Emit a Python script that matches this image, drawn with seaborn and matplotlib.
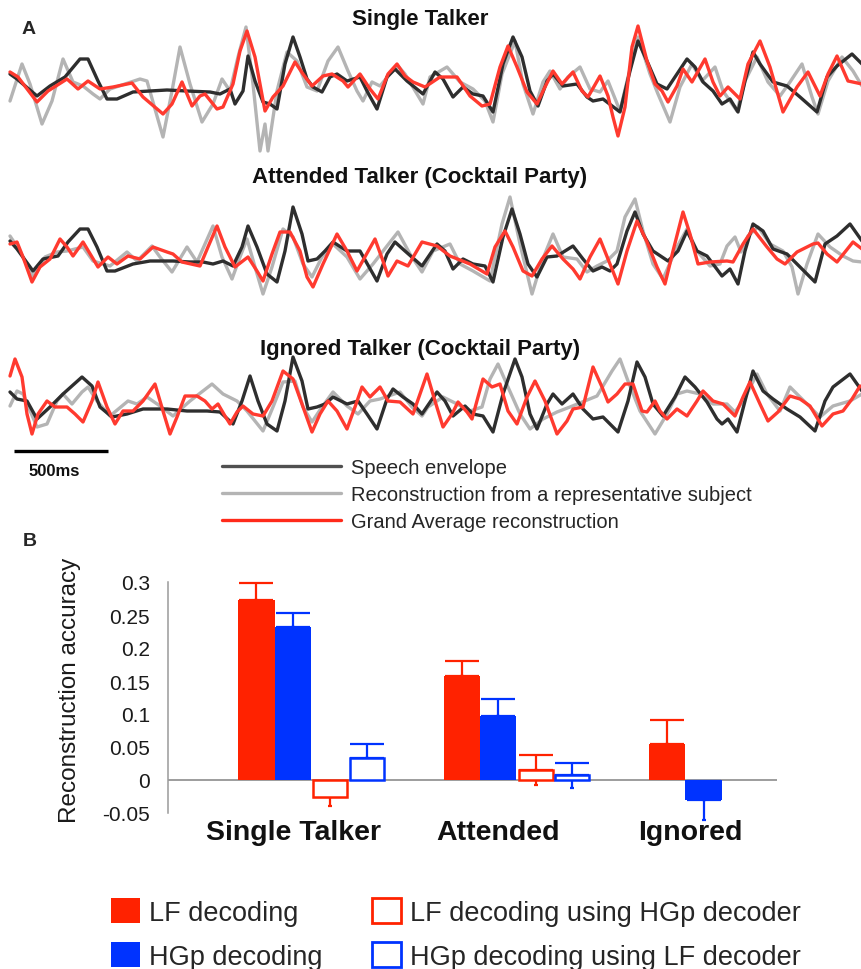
import pandas as pd
import matplotlib
matplotlib.use("Agg")
import matplotlib.pyplot as plt
import seaborn as sns
from matplotlib.patches import Patch
from matplotlib.lines import Line2D

# ---------------- Panel A: envelope traces ----------------
# (sample index at ~188 Hz, amplitude in a.u.)
FS = 188
single_env = [(10,15),(17,10),(37,-7),(50,3),(65,12),(80,30),(88,30),(98,8),(107,-10),(117,-10),(133,-3),(150,-2),(167,-1),(187,-2),(210,-3),(220,-5),(230,0),(235,-15),(243,-2),(248,33),(255,8),(263,-13),(270,-15),(277,-20),(285,25),(293,52),(300,32),(307,10),(313,2),(322,-3),(330,12),(337,15),(347,8),(360,12),(367,-2),(377,-20),(387,12),(395,20),(407,8),(423,-5),(435,17),(443,10),(453,-8),(463,2),(473,-5),(483,-7),(493,-23),(503,25),(513,52),(522,32),(530,-2),(538,-17),(547,8),(553,15),(563,3),(577,5),(587,-8),(593,-12),(603,-10),(620,-23),(630,18),(638,48),(647,28),(657,5),(667,0),(677,15),(687,30),(695,22),(703,7),(713,-2),(722,-15),(730,-10),(738,-23),(745,8),(753,37),(760,25),(773,7),(787,3),(800,-8),(817,-23),(827,12),(837,23),(852,35),(862,25)]
single_rep = [(10,-12),(22,25),(30,5),(42,-35),(52,-12),(63,30),(73,7),(83,3),(93,-5),(100,-10),(110,0),(140,10),(147,8),(163,-48),(172,-2),(180,42),(190,5),(202,-33),(213,-15),(222,10),(230,-2),(238,32),(246,62),(253,5),(260,-62),(265,-35),(268,-62),(277,-2),(287,37),(297,28),(307,2),(317,-2),(328,28),(338,42),(348,18),(357,-2),(363,-12),(372,7),(380,3),(390,15),(398,23),(405,15),(423,-15),(430,12),(447,22),(460,7),(473,0),(485,-12),(493,-33),(502,15),(515,48),(523,5),(533,-25),(543,7),(550,18),(560,0),(568,12),(580,22),(590,0),(600,-3),(608,8),(620,-22),(628,12),(638,52),(650,15),(658,-5),(670,-33),(680,2),(692,25),(702,8),(715,22),(723,-2),(737,-22),(745,8),(757,32),(768,7),(780,-7),(790,7),(802,25),(812,-8),(818,-25),(828,8),(842,32),(853,18),(862,3)]
single_grand = [(10,17),(18,12),(37,-13),(48,-2),(67,10),(78,0),(88,8),(100,0),(113,2),(132,6),(143,-8),(163,-25),(172,-15),(182,7),(192,-17),(200,-7),(205,-5),(217,-20),(223,-18),(233,5),(240,38),(247,58),(255,32),(265,-22),(273,-8),(283,3),(295,27),(303,15),(312,3),(323,13),(332,15),(343,8),(348,2),(360,15),(370,0),(378,-10),(388,15),(397,25),(405,13),(413,7),(425,2),(440,12),(457,12),(470,-7),(482,-17),(490,-15),(500,22),(508,43),(517,22),(527,-3),(537,-15),(545,2),(553,18),(562,5),(573,17),(582,-2),(588,-8),(600,13),(608,-7),(613,-28),(618,-47),(625,-18),(632,42),(638,63),(647,28),(655,5),(662,-2),(668,-13),(677,3),(683,20),(692,7),(705,30),(713,7),(720,-7),(728,2),(740,-10),(748,25),(760,48),(770,22),(783,-23),(797,2),(808,17),(820,-7),(828,15),(837,33),(848,8),(862,5)]

attended_env = [(10,13),(17,5),(33,-17),(43,-5),(58,-2),(68,12),(80,25),(88,25),(97,7),(107,-17),(115,-17),(133,-10),(150,-7),(173,-7),(190,-8),(203,-8),(213,-10),(223,-7),(233,-12),(242,7),(248,28),(257,7),(267,-20),(277,-28),(285,3),(293,47),(302,20),(308,-7),(317,-5),(325,3),(333,12),(347,3),(360,3),(377,-27),(387,0),(395,12),(405,3),(422,-12),(437,10),(445,3),(453,-15),(463,-5),(473,-10),(485,-12),(493,-28),(503,17),(512,45),(520,20),(528,-10),(537,-23),(547,-3),(557,-2),(573,8),(583,-5),(593,-17),(602,-13),(610,-17),(617,-10),(627,23),(635,42),(643,20),(653,3),(668,-7),(678,3),(687,23),(697,3),(707,-2),(713,-10),(722,-22),(730,-15),(738,-30),(745,3),(753,30),(763,23),(773,5),(787,0),(800,-13),(815,-28),(825,10),(837,18),(850,30),(862,13)]
attended_rep = [(10,18),(20,3),(33,-23),(45,-3),(57,2),(67,3),(83,7),(93,-7),(110,-12),(127,2),(137,-7),(152,8),(160,-3),(172,-18),(187,7),(197,-8),(205,10),(213,28),(222,-3),(232,-25),(240,-3),(247,15),(255,-13),(263,-40),(272,-13),(283,25),(293,17),(303,-10),(312,-23),(322,-3),(333,10),(347,-3),(360,-25),(373,-10),(387,8),(398,22),(410,0),(422,-18),(433,3),(450,10),(460,-10),(473,-17),(490,-27),(502,30),(510,57),(520,10),(532,-40),(542,-7),(553,20),(563,-3),(577,-5),(587,-18),(597,-12),(607,-7),(617,3),(625,37),(635,55),(643,23),(653,-10),(663,-25),(677,7),(687,25),(697,3),(710,-12),(720,-10),(727,8),(735,17),(741,2),(748,18),(758,27),(770,10),(783,3),(792,-13),(798,-40),(807,-10),(818,20),(830,7),(843,-2),(853,-7),(862,-8)]
attended_grand = [(10,10),(17,12),(23,-3),(32,-28),(40,-13),(50,-5),(60,15),(67,7),(73,-2),(83,12),(92,-3),(98,-13),(108,-3),(117,-10),(128,-2),(140,-5),(153,7),(167,2),(173,0),(182,-8),(200,-12),(208,7),(217,28),(225,7),(235,-13),(248,-3),(257,-17),(263,-27),(272,0),(280,22),(290,22),(300,3),(307,-23),(313,-33),(323,-10),(337,20),(347,3),(357,-17),(375,15),(383,-7),(388,-22),(397,-7),(408,-12),(422,12),(437,8),(450,-2),(470,-10),(487,-20),(495,7),(505,23),(513,7),(523,-17),(532,-22),(542,-5),(552,8),(563,-5),(573,-15),(580,-25),(590,-3),(600,15),(610,-10),(618,-30),(627,3),(637,33),(647,12),(657,-13),(665,-30),(673,3),(683,42),(690,20),(698,-10),(710,-8),(727,-7),(733,-8),(743,10),(753,25),(767,7),(777,-5),(785,-10),(797,2),(813,10),(818,11),(827,0),(837,-8),(853,12),(862,5)]

ignored_env = [(10,12),(17,5),(27,3),(37,-15),(50,-3),(63,10),(82,27),(92,18),(100,-3),(112,-13),(127,-10),(143,-5),(167,-5),(187,-7),(207,-7),(220,-8),(233,-20),(242,3),(250,28),(258,3),(267,-20),(277,-27),(285,3),(293,47),(302,23),(308,-5),(317,-3),(325,0),(333,7),(347,0),(358,3),(367,-10),(377,-25),(387,5),(393,15),(403,7),(413,0),(422,-10),(437,12),(445,3),(453,-12),(465,-2),(473,-10),(483,-12),(493,-28),(503,10),(515,45),(522,27),(530,-10),(537,-25),(547,0),(553,10),(562,0),(573,10),(583,-5),(593,-15),(603,-13),(613,-23),(618,-28),(628,3),(637,42),(645,27),(653,0),(663,-12),(675,7),(685,27),(695,17),(707,2),(717,-15),(722,-20),(728,-15),(737,-28),(745,3),(753,33),(763,13),(773,5),(787,-5),(800,-13),(815,-27),(825,3),(833,17),(850,30),(862,13)]
ignored_rep = [(10,-2),(17,13),(23,10),(37,-23),(47,-20),(57,3),(63,10),(72,0),(82,12),(88,17),(97,3),(110,-12),(122,-2),(128,3),(137,0),(147,7),(160,-2),(173,-12),(190,3),(212,20),(223,10),(237,3),(247,-7),(263,-27),(273,-3),(283,22),(295,23),(303,-3),(312,-18),(322,-3),(333,12),(347,-2),(358,-10),(370,3),(380,5),(400,12),(412,-3),(422,-12),(428,-3),(443,7),(457,0),(470,-7),(482,-3),(490,25),(498,40),(508,17),(520,-10),(530,-25),(543,-15),(557,-8),(570,-3),(597,8),(612,33),(620,45),(628,23),(640,-7),(655,-30),(667,-10),(677,10),(687,13),(700,10),(713,0),(727,0),(735,-8),(743,3),(757,30),(767,10),(780,-7),(790,17),(800,7),(810,-3),(820,-13),(833,-2),(850,3),(862,10)]
ignored_grand = [(10,28),(15,45),(22,27),(27,-10),(32,-30),(38,-10),(47,3),(55,-3),(67,-3),(75,-10),(83,-18),(92,3),(98,22),(107,-3),(115,-20),(123,-7),(133,-7),(143,3),(155,20),(163,-7),(170,-30),(177,-13),(185,8),(197,8),(205,3),(212,-5),(218,0),(225,-12),(230,-20),(237,-8),(243,-2),(253,-10),(263,-12),(272,3),(283,33),(293,25),(302,0),(312,-28),(320,-10),(328,3),(337,-7),(347,-25),(355,-3),(362,17),(370,7),(380,17),(388,3),(400,2),(413,-10),(427,30),(435,3),(443,-23),(452,-10),(458,2),(467,-8),(472,-15),(478,7),(483,25),(492,17),(500,20),(508,-7),(517,-20),(527,7),(535,23),(545,3),(557,-30),(567,-17),(573,-5),(583,-3),(593,37),(602,17),(608,2),(617,10),(625,20),(633,20),(642,-7),(647,-8),(655,3),(660,-7),(667,-15),(677,-5),(687,-12),(697,3),(703,13),(713,3),(723,0),(735,-12),(743,7),(750,22),(760,0),(768,-17),(778,-8),(790,8),(800,5),(810,-2),(822,-22),(833,-10),(843,-7),(852,5),(860,18)]

trace_names = ["Speech envelope", "Reconstruction from a representative subject", "Grand Average reconstruction"]
panel_titles = ["Single Talker", "Attended Talker (Cocktail Party)", "Ignored Talker (Cocktail Party)"]
panel_traces = [
    (single_env, single_rep, single_grand),
    (attended_env, attended_rep, attended_grand),
    (ignored_env, ignored_rep, ignored_grand),
]

# ---------------- Panel B: reconstruction accuracy ----------------
conditions = ["Single Talker", "Attended", "Ignored"]
decoders = ["LF decoding", "HGp decoding", "LF decoding using HGp decoder", "HGp decoding using LF decoder"]
lf_acc = [0.272, 0.158, 0.054]
lf_sem = [0.027, 0.022, 0.037]
hgp_acc = [0.232, 0.097, -0.031]
hgp_sem = [0.021, 0.026, 0.030]
lf_cross_acc = [-0.025, 0.015]   # not tested for Ignored
lf_cross_sem = [0.015, 0.023]
hgp_cross_acc = [0.033, 0.007]
hgp_cross_sem = [0.022, 0.019]

rows = []
for dec, acc, sem in zip(decoders, [lf_acc, hgp_acc, lf_cross_acc, hgp_cross_acc],
                         [lf_sem, hgp_sem, lf_cross_sem, hgp_cross_sem]):
    for cond, a, s in zip(conditions, acc, sem):
        rows.append({"condition": cond, "decoder": dec, "acc": a, "sem": s})
df_bars = pd.DataFrame(rows)

# ---------------- style ----------------
sns.set_theme(style="white")
plt.rcParams["font.family"] = ["Liberation Sans", "DejaVu Sans"]
plt.rcParams["lines.solid_joinstyle"] = "round"
plt.rcParams["lines.solid_capstyle"] = "round"

RED, BLUE = "#ff2200", "#0033ff"
trace_colors = {trace_names[0]: "#2e2e2e", trace_names[1]: "#b4b4b4", trace_names[2]: "#ff3a2f"}

W, H = 862, 970
def box(x0, y0, x1, y1):
    return [x0 / W, 1 - y1 / H, (x1 - x0) / W, (y1 - y0) / H]

fig = plt.figure(figsize=(W / 100, H / 100), dpi=100)

# panel A layout: (top px, bottom px, centre px, title y px)
layout_A = [(20, 160, 90, 20), (185, 325, 255, 178), (340, 470, 405, 349)]
axes_A = []
for title, traces, (top, bot, cen, ty) in zip(panel_titles, panel_traces, layout_A):
    ax = fig.add_axes(box(0, top, W, bot))
    frames = []
    for name, tr in zip(trace_names, traces):
        d = pd.DataFrame(tr, columns=["sample", "amp"])
        d["trace"] = name
        frames.append(d)
    df = pd.concat(frames, ignore_index=True)
    sns.lineplot(data=df, x="sample", y="amp", hue="trace",
                 hue_order=[trace_names[1], trace_names[0], trace_names[2]],
                 palette=trace_colors, estimator=None, errorbar=None,
                 linewidth=2.4, legend=False, ax=ax)
    ax.set_xlim(0, W)
    ax.set_ylim(cen - bot, cen - top)
    ax.axis("off")
    fig.text(420 / W, 1 - ty / H, title, ha="center", va="center",
             fontsize=16, fontweight="bold", color="#111111")
    axes_A.append(ax)

# scale bar 500 ms
ax_ig = axes_A[2]
ax_ig.plot([14, 14 + 0.5 * FS], [-47, -47], color="black", lw=2.4, solid_capstyle="butt")
fig.text(54 / W, 1 - 472 / H, "500ms", ha="center", va="center", fontsize=12,
         fontweight="bold", color="#111111")

legA_handles = [Line2D([], [], color="#505050", lw=2.4),
                Line2D([], [], color="#b4b4b4", lw=2.4),
                Line2D([], [], color="#ff2a1a", lw=2.4)]
fig.legend(legA_handles, trace_names, loc="upper left",
           bbox_to_anchor=(222 / W, 1 - 459 / H), frameon=False, fontsize=14.5,
           handlelength=5.9, handletextpad=0.5, labelspacing=0.4,
           borderpad=0, borderaxespad=0)

fig.text(29 / W, 1 - 30 / H, "A", ha="center", va="center", fontsize=14, fontweight="bold")
fig.text(30 / W, 1 - 542 / H, "B", ha="center", va="center", fontsize=14, fontweight="bold")

# ---------------- panel B ----------------
y_lo, y_hi = -0.065, 0.302
px_per_unit = 660
y_top_px = 781 - y_hi * px_per_unit
y_bot_px = 781 - y_lo * px_per_unit
axb = fig.add_axes(box(168, y_top_px, 777, y_bot_px))
pal = dict(zip(decoders, [RED, BLUE, RED, BLUE]))
sns.barplot(data=df_bars, x="condition", y="acc", hue="decoder", order=conditions,
            hue_order=decoders, palette=pal, saturation=1, width=0.71, gap=0,
            errorbar=None, legend=False, ax=axb, zorder=3, linewidth=0)

bar_containers = list(axb.containers)
for k, cont in enumerate(bar_containers):
    color = pal[decoders[k]]
    sub = df_bars[df_bars["decoder"] == decoders[k]]
    for bar, (_, r) in zip(cont, sub.iterrows()):
        if k >= 2:
            # open bars are a touch narrower, leaving a small gap to the filled pair
            bar.set_x(bar.get_x() + 0.012)
            bar.set_width(bar.get_width() - 0.014)
            bar.set_facecolor("white")
            bar.set_edgecolor(color)
            bar.set_linewidth(1.8)
        xc = bar.get_x() + bar.get_width() / 2
        axb.errorbar([xc], [r["acc"]], yerr=[[0], [r["sem"]]], fmt="none",
                     ecolor=color, elinewidth=1.6, capsize=12.5, capthick=1.6, zorder=2)
        axb.errorbar([xc], [r["acc"]], yerr=[[r["sem"]], [0]], fmt="none",
                     ecolor=color, elinewidth=1.6, capsize=1.5, capthick=1.6, zorder=2)

axb.axhline(0, color="#8c8c8c", lw=1.2, zorder=1)
axb.set_xlim(-0.696, 2.268)
axb.set_ylim(y_lo, y_hi)
for s in ["top", "right", "bottom"]:
    axb.spines[s].set_visible(False)
axb.spines["left"].set_color("#9a9a9a")
axb.spines["left"].set_linewidth(1.1)
axb.spines["left"].set_bounds(-0.05, 0.3)
yt = [-0.05, 0, 0.05, 0.1, 0.15, 0.2, 0.25, 0.3]
axb.set_yticks(yt)
axb.set_yticklabels(["-0.05", "0", "0.05", "0.1", "0.15", "0.2", "0.25", "0.3"])
axb.tick_params(axis="y", length=0, pad=13, labelsize=15, labelcolor="#1a1a1a")
axb.set_xticks([])
axb.set_xlabel("")
axb.set_ylabel("")
axb.patch.set_alpha(0)

label_x = [-0.083, 0.91, 1.844]
for lx, cond in zip(label_x, conditions):
    axb.text(lx, -0.079, cond, ha="center", va="center", fontsize=20.5,
             fontweight="bold", color="#111111", clip_on=False)

fig.text(70 / W, 1 - 690 / H, "Reconstruction accuracy", rotation=90,
         ha="center", va="center", fontsize=17.5, color="#1a1a1a")

legB_handles = [Patch(facecolor=RED, edgecolor=RED, lw=0),
                Patch(facecolor=BLUE, edgecolor=BLUE, lw=0),
                Patch(facecolor="white", edgecolor=RED, lw=2),
                Patch(facecolor="white", edgecolor=BLUE, lw=2)]
fig.legend(legB_handles, decoders, ncol=2, loc="upper left",
           bbox_to_anchor=(111 / W, 1 - 899 / H), frameon=False, fontsize=19.5,
           handlelength=1.07, handleheight=1.05, handletextpad=0.35,
           columnspacing=1.8, labelspacing=0.6, borderpad=0, borderaxespad=0)

fig.savefig("out.png", dpi=100)
